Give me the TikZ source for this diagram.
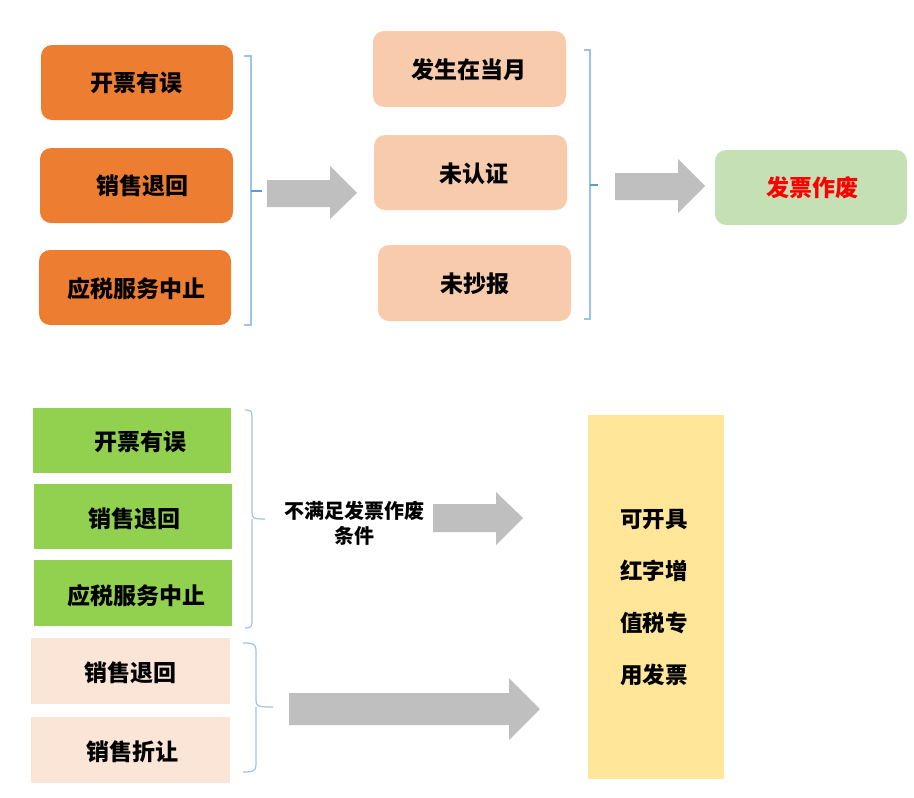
\documentclass[tikz,border=0pt]{standalone}
\usepackage{fontspec}
\setmainfont{Noto Sans CJK SC}
\begin{document}
\begin{tikzpicture}[x=1pt,y=-1pt,
  box/.style={inner sep=0pt,font=\fontsize{23}{26}\selectfont\bfseries},
  brk/.style={draw=brkc,line width=1.2pt},
  tick/.style={draw=tickc,line width=1.6pt},
  garrow/.style={fill=arrc}]
\definecolor{orgc}{HTML}{ED7D31}
\definecolor{peachc}{HTML}{F8CBAD}
\definecolor{grnc}{HTML}{92D050}
\definecolor{lightc}{HTML}{FBE5D6}
\definecolor{palegrn}{HTML}{C5E0B4}
\definecolor{yel}{HTML}{FFE699}
\definecolor{brkc}{HTML}{9DC3E6}
\definecolor{tickc}{HTML}{5B9BD5}
\definecolor{arrc}{HTML}{BFBFBF}
\useasboundingbox (0,0) rectangle (914,798);
% top-left orange
\fill[orgc,rounded corners=11pt] (41,45) rectangle (233,120);
\node[box] (a1) at (136,83) {开票有误};
\fill[orgc,rounded corners=11pt] (40,148) rectangle (233,223);
\node[box] (a2) at (142,186) {销售退回};
\fill[orgc,rounded corners=11pt] (39,250) rectangle (231,325);
\node[box] (a3) at (136,289) {应税服务中止};
% bracket 1
\draw[brk] (244,56) -- (251,56) -- (251,325) -- (244,325);
\draw[tick] (251,191) -- (262,191);
\fill[garrow] (267,180) -- (330,180) -- (330,166) -- (357,193) -- (330,219) -- (330,207) -- (267,207) -- cycle;
% middle peach
\fill[peachc,rounded corners=11pt] (373,31) rectangle (566,107);
\node[box] (b1) at (469,70) {发生在当月};
\fill[peachc,rounded corners=11pt] (374,135) rectangle (567,210);
\node[box] (b2) at (474,174) {未认证};
\fill[peachc,rounded corners=11pt] (378,245) rectangle (571,321);
\node[box] (b3) at (475,284) {未抄报};
% bracket 2
\draw[brk] (584,50) -- (590,50) -- (590,319) -- (584,319);
\draw[tick] (590,185) -- (598,185);
\fill[garrow] (615,173) -- (678,173) -- (678,159) -- (705,186) -- (678,213) -- (678,200) -- (615,200) -- cycle;
% green result
\fill[palegrn,rounded corners=11pt] (715,150) rectangle (907,225);
\node[box,text=red] (c1) at (812,188) {发票作废};
% bottom green boxes
\fill[grnc] (33,408) rectangle (231,473);
\node[box] (d1) at (140,442) {开票有误};
\fill[grnc] (34,484) rectangle (232,549);
\node[box] (d2) at (134,519) {销售退回};
\fill[grnc] (34,560) rectangle (232,626);
\node[box] (d3) at (136,596) {应税服务中止};
% bracket 3
\draw[brk] (245,410) .. controls (251,410) and (252,411) .. (252,417) -- (252,512) .. controls (252,518) and (253,519) .. (265,519)
  (252,519) .. controls (252,520) and (252,521) .. (252,526) -- (252,621) .. controls (252,627) and (251,628) .. (245,628);
\node[font=\fontsize{20}{25}\selectfont\bfseries,align=center] (t1) at (354,523) {不满足发票作废\\条件};
\fill[garrow] (433,504) -- (496,504) -- (496,492) -- (523,518) -- (496,545) -- (496,532) -- (433,532) -- cycle;
% bottom light boxes
\fill[lightc] (31,638) rectangle (230,704);
\node[box] (e1) at (130,673) {销售退回};
\fill[lightc] (31,717) rectangle (230,783);
\node[box] (e2) at (132,752) {销售折让};
% bracket 4
\draw[brk] (243,643) .. controls (253,643) and (256,644) .. (256,650) -- (256,700) .. controls (256,706) and (257,707) .. (273,707)
  (256,707) .. controls (256,708) and (256,709) .. (256,714) -- (256,765) .. controls (256,771) and (253,772) .. (243,772);
\fill[garrow] (289,693) -- (509,693) -- (509,678) -- (540,709) -- (509,740) -- (509,725) -- (289,725) -- cycle;
% yellow
\fill[yel] (588,415) rectangle (724,779);
\node[box,align=center,font=\fontsize{22.5}{52}\selectfont\bfseries] (f1) at (654,598) {可开具\\红字增\\值税专\\用发票};
\end{tikzpicture}
\end{document}
